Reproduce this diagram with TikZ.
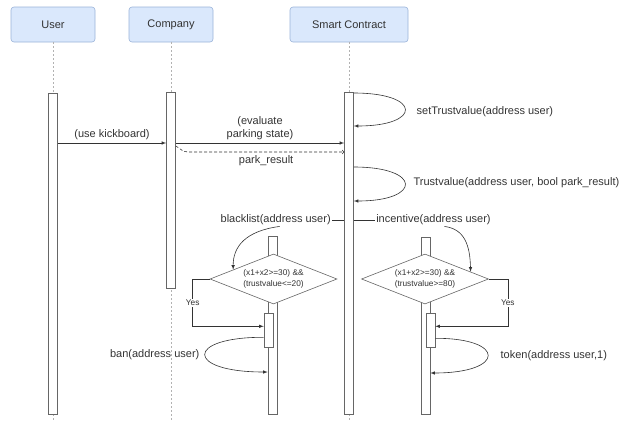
\documentclass[tikz,border=0pt]{standalone}
\usepackage{fontspec}
\setmainfont{Liberation Sans}
\usetikzlibrary{shapes.geometric}
\definecolor{headfill}{HTML}{DAE8FC}
\definecolor{headline}{HTML}{9AB3D9}
\definecolor{ink}{HTML}{333333}
\begin{document}
\begin{tikzpicture}[x=1pt,y=-1pt,line width=0.6pt,
    font=\fontsize{11}{13}\selectfont, text=ink,
    head/.style={draw=headline,fill=headfill,rounded corners=3pt,minimum height=35pt,inner sep=0pt},
    life/.style={gray!60,line width=0.5pt,dash pattern=on 2pt off 2pt},
    bar/.style={draw=gray!80!black,fill=white,minimum width=9pt,inner sep=0pt,anchor=north},
    msg/.style={ink,-latex},
    condfont/.style={font=\fontsize{8.3}{10.5}\selectfont},
    cond/.style={diamond,draw=gray!80!black,fill=white,shape aspect=2.54,minimum width=127pt,
      minimum height=50pt,inner sep=0pt,align=center,condfont}]
    \useasboundingbox (0,0) rectangle (642,421);
    \node[head,minimum width=84pt] (user) at (53,24.5) {User};
    \node[head,minimum width=84pt] (company) at (171,24.5) {Company};
    \node[head,minimum width=118pt] (contract) at (349,24.5) {Smart Contract};
    \draw[life] (user.south) -- (user.south |- 0,421);
    \draw[life] (company.south) -- (company.south |- 0,421);
    \draw[life] (contract.south) -- (contract.south |- 0,421);
    \node[bar,minimum height=321pt] (userbar) at (53,93) {};
    \node[bar,minimum height=196pt] (compbar) at (171,92) {};
    \node[bar,minimum height=322pt] (scbar) at (349,92) {};
    \node[bar,minimum height=178pt] (blbar) at (272.5,236) {};
    \node[bar,minimum height=177pt] (inbar) at (425.5,237) {};
    \node[cond] (bldia) at (273.5,279) {(x1+x2>=30) \&\&\\(trustvalue<=20)};
    \node[cond] (india) at (425,279) {(x1+x2>=30) \&\&\\(trustvalue>=80)};
    \node[bar,minimum height=34pt] (blact) at (268.5,313) {};
    \node[bar,minimum height=34pt] (inact) at (430.5,313) {};
    \draw[msg] (userbar.east |- 0,143) -- (compbar.west |- 0,143) node[midway,above] (kick) {(use kickboard)};
    \draw[msg] (compbar.east |- 0,143) -- (scbar.west |- 0,143)
      node[midway,above,align=center] (evaluate) {(evaluate\\parking state)};
    \draw[ink,dash pattern=on 3pt off 2pt,->] (compbar.east |- 0,146) to[out=-30,in=180] (188,152)
      -- (scbar.west |- 0,152) node[midway,below] (park) {park\_result};
    \draw[msg] (scbar.east |- 0,93) .. controls (422,93) and (422,126) .. (scbar.east |- 0,126);
    \node[anchor=west] (settrust) at (413,112) {setTrustvalue(address user)};
    \draw[msg] (scbar.east |- 0,167) .. controls (422,167) and (422,201) .. (scbar.east |- 0,201);
    \node[anchor=west] (trust) at (410,183) {Trustvalue(address user, bool park\_result)};
    \node[anchor=east,inner sep=1pt] (blcall) at (332,220) {blacklist(address user)};
    \draw[ink] (blcall.east) -- (scbar.west |- blcall.east);
    \node[anchor=west,inner sep=1pt] (incall) at (375,220) {incentive(address user)};
    \draw[ink] (scbar.east |- incall.west) -- (incall.west);
    \draw[msg] ([xshift=4pt]blcall.south) .. controls (245,231) and (233,247) .. (bldia.167);
    \draw[msg] ([xshift=11pt]incall.south) .. controls (465,229) and (470,246) .. (india.9);
    \draw[msg] (bldia.west) -- ++(-17,0) |- ([yshift=4pt]blact.west)
      node[pos=0.25,fill=white,inner sep=1pt,condfont] (blyes) {Yes};
    \draw[msg] (india.east) -- ++(19,0) |- ([yshift=4pt]inact.east)
      node[pos=0.25,fill=white,inner sep=1pt,condfont] (inyes) {Yes};
    \draw[msg] ([yshift=-7pt]blact.west) .. controls (185,337) and (185,372) .. (blbar.west |- 0,372);
    \node[anchor=east] (ban) at (203,355) {ban(address user)};
    \draw[msg] ([yshift=-8pt]inact.east) .. controls (506,338) and (506,373) .. (inbar.east |- 0,373);
    \node[anchor=west] (token) at (497,356) {token(address user,1)};
  \end{tikzpicture}
\end{document}
